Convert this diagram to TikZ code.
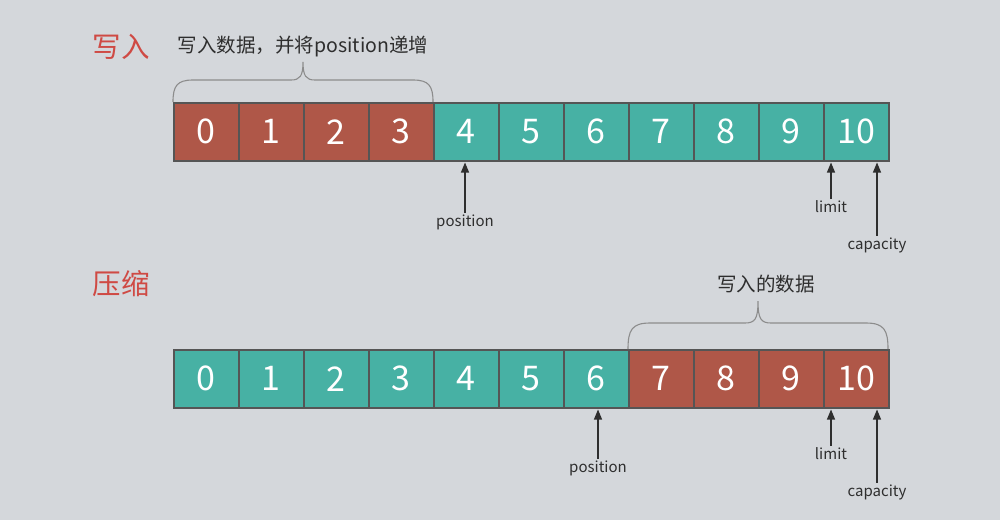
\documentclass[tikz,border=0pt]{standalone}
\usepackage{fontspec}
\setmainfont{Noto Sans CJK SC}
\usetikzlibrary{arrows.meta}
\definecolor{bg}{HTML}{D4D7DB}
\definecolor{cellred}{HTML}{AF5748}
\definecolor{cellteal}{HTML}{47B1A4}
\definecolor{edge}{HTML}{555555}
\definecolor{titlered}{HTML}{CF4A44}
\definecolor{bracegray}{HTML}{8C8C8C}
\definecolor{ink}{HTML}{2E2E2E}
\begin{document}
\begin{tikzpicture}[x=1pt,y=-1pt,
  cell/.style={draw=edge,line width=1.5pt,minimum width=65pt,minimum height=58pt,
    inner sep=0pt,text=white,font=\fontsize{34}{34}\selectfont,anchor=north west},
  redcell/.style={cell,fill=cellred},
  tealcell/.style={cell,fill=cellteal},
  title/.style={text=titlered,font=\fontsize{28.5}{28.5}\selectfont,inner sep=0pt},
  bracelab/.style={text=ink,font=\fontsize{19.5}{19.5}\selectfont,inner sep=0pt},
  lab/.style={text=ink,font=\fontsize{15}{15}\selectfont,inner sep=1.5pt},
  arr/.style={draw=ink,line width=1.1pt,-{Triangle[width=8pt,length=10pt]},shorten >=1pt},
  bracepath/.style={draw=bracegray,line width=1.1pt}]
\fill[bg] (0,0) rectangle (1000,520);
\useasboundingbox (0,0) rectangle (1000,520);

% titles
\node[title] (t1) at (121,47) {写入};
\node[title] (t2) at (121,284) {压缩};

% top row
\foreach \i in {0,...,3} \node[redcell] (a\i) at ({173+65*\i},102) {\i};
\foreach \i in {4,...,10} \node[tealcell] (a\i) at ({173+65*\i},102) {\i};
% bottom row
\foreach \i in {0,...,6} \node[tealcell] (b\i) at ({173+65*\i},349) {\i};
\foreach \i in {7,...,10} \node[redcell] (b\i) at ({173+65*\i},349) {\i};

% brace 1
\node[bracelab] (bl1) at (303,47) {写入数据，并将position递增};
\begin{scope}[shift={(173,102)}]
\path[bracepath] (0,0) .. controls (0,-16) and (4,-22) .. (20,-22) -- (118,-22)
  .. controls (127,-22) and (130,-26) .. (130,-40)
  .. controls (130,-26) and (133,-22) .. (142,-22) -- (240,-22)
  .. controls (256,-22) and (260,-16) .. (260,0);
\end{scope}

% brace 2
\node[bracelab] (bl2) at (766,284) {写入的数据};
\begin{scope}[shift={(628,349)}]
\path[bracepath] (0,0) .. controls (0,-19) and (4,-26) .. (22,-26) -- (117,-26)
  .. controls (127,-26) and (130,-30) .. (130,-48)
  .. controls (130,-30) and (133,-26) .. (143,-26) -- (238,-26)
  .. controls (256,-26) and (260,-19) .. (260,0);
\end{scope}

% pointers top
\node[lab] (pos1) at (465,222) {position};
\node[lab] (lim1) at (831,207) {limit};
\node[lab] (cap1) at (877,245) {capacity};
\draw[arr] (pos1.north) -- (pos1.north |- a4.south);
\draw[arr] (lim1.north) -- (lim1.north |- a10.south);
\draw[arr] (cap1.north) -- (cap1.north |- a10.south);

% pointers bottom
\node[lab] (pos2) at (598,468) {position};
\node[lab] (lim2) at (831,454) {limit};
\node[lab] (cap2) at (877,492) {capacity};
\draw[arr] (pos2.north) -- (pos2.north |- b6.south);
\draw[arr] (lim2.north) -- (lim2.north |- b10.south);
\draw[arr] (cap2.north) -- (cap2.north |- b10.south);
\end{tikzpicture}
\end{document}
